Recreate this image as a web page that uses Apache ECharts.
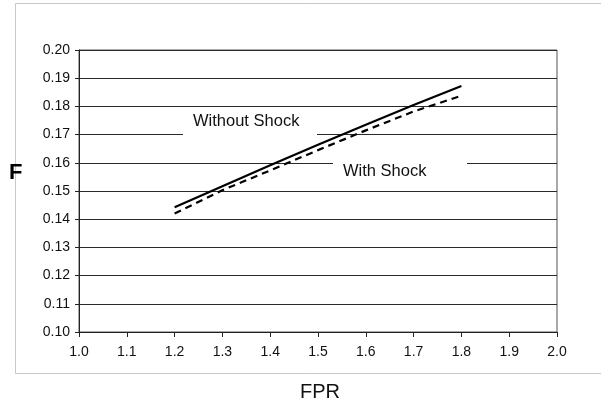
<!DOCTYPE html>
<html>
<head>
<meta charset="utf-8">
<script src="https://cdn.jsdelivr.net/npm/echarts@6/dist/echarts.min.js"></script>
<style>
html,body{margin:0;padding:0;background:#fff;}
#c{width:601px;height:406px;}
</style>
</head>
<body>
<div id="c"></div>
<script>
// Data
var fprValues = [1.2, 1.3, 1.4, 1.5, 1.6, 1.7, 1.8];
var withoutShock = [0.1442, 0.1517, 0.1591, 0.1664, 0.1735, 0.1805, 0.1872];
var withShock = [0.1420, 0.1503, 0.1573, 0.1645, 0.1715, 0.1782, 0.1838];
var seriesNames = ['Without Shock', 'With Shock'];
var xAxisTitle = 'FPR';
var yAxisTitle = 'F';

function pairs(xs, ys) {
  return xs.map(function (x, i) { return [x, ys[i]]; });
}

var FONT = '"Liberation Sans", Arial, sans-serif';
var chart = echarts.init(document.getElementById('c'), null, {renderer: 'canvas'});
chart.setOption({
  animation: false,
  backgroundColor: '#fff',
  grid: {left: 79, right: 44, top: 50, bottom: 74, show: true, borderColor: '#555', borderWidth: 1, backgroundColor: 'transparent'},
  xAxis: {
    type: 'value', min: 1.0, max: 2.0, interval: 0.1,
    axisLine: {show: true, lineStyle: {color: '#222', width: 1}},
    axisTick: {show: true, inside: false, length: 5, lineStyle: {color: '#222'}},
    axisLabel: {color: '#111', fontFamily: FONT, fontSize: 14, margin: 13,
      formatter: function (v) { return v.toFixed(1); }},
    splitLine: {show: false}
  },
  yAxis: {
    type: 'value', min: 0.10, max: 0.20, interval: 0.01,
    axisLine: {show: true, lineStyle: {color: '#222', width: 1}},
    axisTick: {show: true, inside: false, length: 4, lineStyle: {color: '#222'}},
    axisLabel: {color: '#111', fontFamily: FONT, fontSize: 14, margin: 9,
      formatter: function (v) { return v.toFixed(2); }},
    splitLine: {show: true, lineStyle: {color: '#2a2a2a', width: 1}}
  },
  graphic: [
    {type: 'rect', left: 13, top: 1, shape: {width: 620, height: 370}, style: {fill: 'none', stroke: '#c8c8c8', lineWidth: 1}, z: -1},
    {type: 'rect', left: 183, top: 109, shape: {width: 134, height: 29}, style: {fill: '#fff'}, z: 1},
    {type: 'text', left: 193, top: 113, style: {text: seriesNames[0], fill: '#111', font: '16.5px ' + FONT}, z: 2},
    {type: 'rect', left: 333, top: 158, shape: {width: 134, height: 29}, style: {fill: '#fff'}, z: 1},
    {type: 'text', left: 343, top: 163, style: {text: seriesNames[1], fill: '#111', font: '16.5px ' + FONT}, z: 2},
    {type: 'text', left: 9, top: 162, style: {text: yAxisTitle, fill: '#000', font: 'bold 22px ' + FONT}},
    {type: 'text', left: 300, top: 382, style: {text: xAxisTitle, fill: '#111', font: '20px ' + FONT}}
  ],
  series: [
    {name: seriesNames[0], type: 'line', data: pairs(fprValues, withoutShock), showSymbol: false, symbol: 'none',
      lineStyle: {color: '#000', width: 2.2, type: 'solid'}, z: 5},
    {name: seriesNames[1], type: 'line', data: pairs(fprValues, withShock), showSymbol: false, symbol: 'none',
      lineStyle: {color: '#000', width: 2.2, type: [7, 5]}, z: 5}
  ]
});
</script>
</body>
</html>
